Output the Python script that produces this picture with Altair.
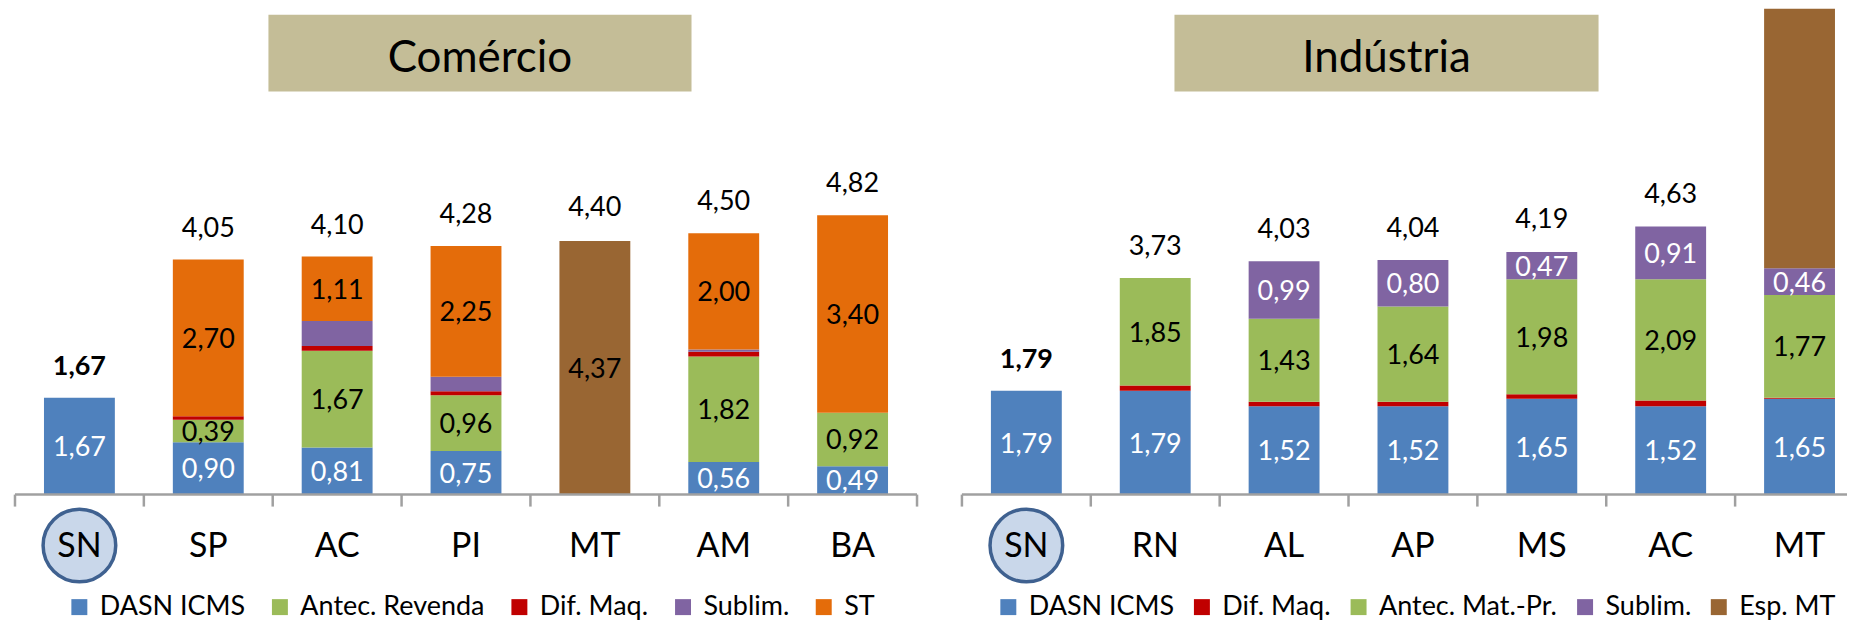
import altair as alt
import pandas as pd

FONT = "Lato"
Y_MAX = 8.37
PLOT_H = 487
STEP = 904 / 7          # pixel width of one category slot
BAR_FRAC = 0.55         # bar width as share of a slot
AXIS_GREY = "#A0A0A0"

# ---------------- Comércio ----------------
com_cats = ["SN", "SP", "AC", "PI", "MT", "AM", "BA"]
com_series = ["DASN ICMS", "Antec. Revenda", "Dif. Maq.", "Sublim.", "ST", "Esp. MT"]
com_colors = ["#4F81BD", "#9BBB59", "#C00000", "#8064A2", "#E46C0A", "#996633"]
com_dasn = [1.67, 0.90, 0.81, 0.75, 0.00, 0.56, 0.49]
com_antec = [0.00, 0.39, 1.67, 0.96, 0.00, 1.82, 0.92]
com_dif = [0.00, 0.06, 0.08, 0.07, 0.00, 0.08, 0.00]
com_sublim = [0.00, 0.00, 0.43, 0.25, 0.00, 0.04, 0.00]
com_st = [0.00, 2.70, 1.11, 2.25, 0.00, 2.00, 3.40]
com_esp = [0.00, 0.00, 0.00, 0.00, 4.37, 0.00, 0.00]
com_totals = [1.67, 4.05, 4.10, 4.28, 4.40, 4.50, 4.82]
com_legend = ["DASN ICMS", "Antec. Revenda", "Dif. Maq.", "Sublim.", "ST"]
com_labelled = ["DASN ICMS", "Antec. Revenda", "ST", "Esp. MT"]
com_white = ["DASN ICMS"]

# ---------------- Indústria ----------------
ind_cats = ["SN", "RN", "AL", "AP", "MS", "AC", "MT"]
ind_series = ["DASN ICMS", "Dif. Maq.", "Antec. Mat.-Pr.", "Sublim.", "Esp. MT"]
ind_colors = ["#4F81BD", "#C00000", "#9BBB59", "#8064A2", "#996633"]
ind_dasn = [1.79, 1.79, 1.52, 1.52, 1.65, 1.52, 1.65]
ind_dif = [0.00, 0.09, 0.08, 0.08, 0.08, 0.10, 0.02]
ind_antec = [0.00, 1.85, 1.43, 1.64, 1.98, 2.09, 1.77]
ind_sublim = [0.00, 0.00, 0.99, 0.80, 0.47, 0.91, 0.46]
ind_esp = [0.00, 0.00, 0.00, 0.00, 0.00, 0.00, 4.60]
ind_totals = [1.79, 3.73, 4.03, 4.04, 4.19, 4.63, None]
ind_legend = ind_series
ind_labelled = ["DASN ICMS", "Antec. Mat.-Pr.", "Sublim."]
ind_white = ["DASN ICMS", "Sublim."]


def fmt(v):
    return f"{v:.2f}".replace(".", ",")


def panel(title, cats, series, colors, columns, totals, legend_vals, labelled,
          white, width, end_tick, box, legend_x, col_pad):
    rows = []
    for i, c in enumerate(cats):
        base = 0.0
        for s, col in zip(series, columns):
            v = col[i]
            if v > 0:
                rows.append({"cat": c, "i": i,
                             "xb0": i + (1 - BAR_FRAC) / 2,
                             "xb1": i + (1 + BAR_FRAC) / 2,
                             "xc": i + 0.5,
                             "series": s, "v": v, "y0": base,
                             "y1": base + v, "mid": base + v / 2,
                             "label": fmt(v), "show": s in labelled,
                             "white": s in white})
            base += v
    seg = pd.DataFrame(rows)
    tot = pd.DataFrame({"cat": cats, "total": totals,
                        "xc": [i + 0.5 for i in range(len(cats))]}).dropna()
    tot["label"] = tot["total"].map(fmt)
    tot["bold"] = tot["cat"] == "SN"
    catdf = pd.DataFrame({"cat": cats, "i": list(range(len(cats))),
                          "xc": [i + 0.5 for i in range(len(cats))]})

    xscale = alt.Scale(domain=[0, width / STEP], nice=False, zero=False)
    yscale = alt.Scale(domain=[0, Y_MAX], nice=False, zero=True)

    bars = alt.Chart(seg).mark_bar(clip=True).encode(
        x=alt.X("xb0:Q", scale=xscale, axis=None),
        x2="xb1:Q",
        y=alt.Y("y0:Q", scale=yscale, axis=None),
        y2="y1:Q",
        color=alt.Color("series:N",
                        scale=alt.Scale(domain=series, range=colors),
                        legend=alt.Legend(values=legend_vals, title=None,
                                          orient="none", legendX=legend_x,
                                          legendY=586, direction="horizontal",
                                          columns=len(legend_vals),
                                          symbolType="square", symbolSize=256,
                                          symbolStrokeWidth=0, labelFont=FONT,
                                          labelFontSize=27, labelColor="#000000",
                                          labelOffset=7, columnPadding=col_pad,
                                          labelLimit=400)),
    )

    seg_text = alt.Chart(seg).transform_filter("datum.show").mark_text(
        font=FONT, fontSize=27, baseline="alphabetic", dy=10, clip=True
    ).encode(
        x=alt.X("xc:Q", scale=xscale, axis=None),
        y=alt.Y("mid:Q", scale=yscale, axis=None),
        text="label:N",
        color=alt.condition("datum.white", alt.value("#FFFFFF"), alt.value("#000000")),
    )

    tot_norm = alt.Chart(tot).transform_filter("!datum.bold").mark_text(
        font=FONT, fontSize=27, baseline="alphabetic", dy=-23, color="#000000"
    ).encode(x=alt.X("xc:Q", scale=xscale, axis=None),
             y=alt.Y("total:Q", scale=yscale, axis=None), text="label:N")
    tot_bold = alt.Chart(tot).transform_filter("datum.bold").mark_text(
        font=FONT, fontSize=27, fontWeight="bold", baseline="alphabetic",
        dy=-23, color="#000000"
    ).encode(x=alt.X("xc:Q", scale=xscale, axis=None),
             y=alt.Y("total:Q", scale=yscale, axis=None), text="label:N")

    # axis base line, tick marks at category boundaries, category labels
    tdf = pd.DataFrame({"t": [title]})
    domain_line = alt.Chart(tdf).mark_rule(color=AXIS_GREY, strokeWidth=2.5).encode(
        x=alt.value(0), x2=alt.value(width), y=alt.value(PLOT_H))
    ticks = alt.Chart(catdf).mark_rule(color=AXIS_GREY, strokeWidth=2.5).encode(
        x=alt.X("i:Q", scale=xscale, axis=None),
        y=alt.value(PLOT_H), y2=alt.value(PLOT_H + 12))
    layers_extra = [domain_line, ticks]
    if end_tick:
        layers_extra.append(
            alt.Chart(tdf).mark_rule(color=AXIS_GREY, strokeWidth=2.5).encode(
                x=alt.value(width), y=alt.value(PLOT_H), y2=alt.value(PLOT_H + 12)))

    circle = alt.Chart(catdf[catdf["cat"] == "SN"]).mark_point(
        shape="circle", filled=True, size=5300, fill="#C9D7EA",
        stroke="#3F6190", strokeWidth=3.5, opacity=1, fillOpacity=1
    ).encode(x=alt.X("xc:Q", scale=xscale, axis=None), y=alt.value(538))

    cat_labels = alt.Chart(catdf).mark_text(
        font=FONT, fontSize=34, baseline="alphabetic", align="center",
        color="#000000"
    ).encode(x=alt.X("xc:Q", scale=xscale, axis=None), y=alt.value(550),
             text="cat:N")

    trect = alt.Chart(tdf).mark_rect(color="#C4BD97").encode(
        x=alt.value(box[0]), x2=alt.value(box[1]),
        y=alt.value(6), y2=alt.value(83))
    ttext = alt.Chart(tdf).mark_text(
        font=FONT, fontSize=44, color="#000000", align="center",
        baseline="alphabetic"
    ).encode(x=alt.value((box[0] + box[1]) / 2), y=alt.value(63), text="t:N")

    return alt.layer(trect, ttext, circle, bars, seg_text, tot_norm, tot_bold,
                     *layers_extra, cat_labels).properties(width=width, height=PLOT_H)


left = panel("Comércio", com_cats, com_series, com_colors,
             [com_dasn, com_antec, com_dif, com_sublim, com_st, com_esp],
             com_totals, com_legend, com_labelled, com_white, 904, True,
             (254, 678), 51, 21)
right = panel("Indústria", ind_cats, ind_series, ind_colors,
              [ind_dasn, ind_dif, ind_antec, ind_sublim, ind_esp],
              ind_totals, ind_legend, ind_labelled, ind_white, 887, False,
              (213, 638), 33, 14)

chart = alt.hconcat(left, right, spacing=45, bounds="flush").resolve_scale(
    color="independent", x="independent", y="independent"
).properties(
    padding={"left": 5, "top": 0, "right": 0, "bottom": 0},
    background="#FFFFFF",
).configure(font=FONT).configure_view(stroke=None)

chart.save("out.html", embed_options={"renderer": "svg", "actions": False})
